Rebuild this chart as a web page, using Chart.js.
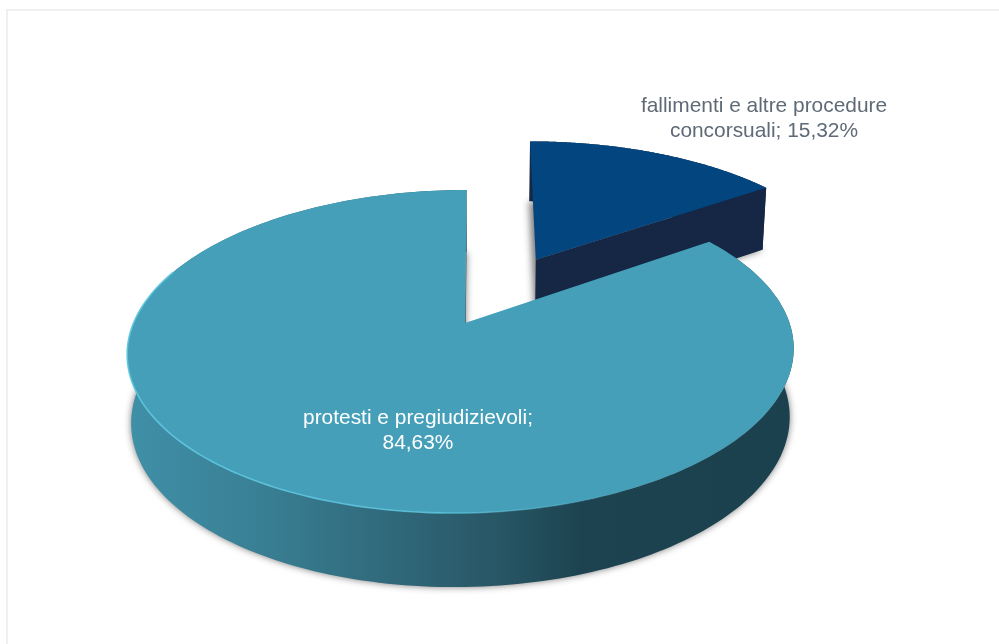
<!DOCTYPE html>
<html>
<head>
<meta charset="utf-8">
<title>Segnalazioni</title>
<script src="https://cdn.jsdelivr.net/npm/chart.js@4"></script>
<style>
html, body { margin: 0; background: #fff; overflow: hidden; }
#frame { position: absolute; left: 6px; top: 9px; right: 0; bottom: 0; border-left: 2px solid #efefef; border-top: 2px solid #efefef; }
#pie3d { position: absolute; left: 0; top: 0; }
</style>
</head>
<body>
<div id="frame"></div>
<canvas id="pie3d" width="999" height="644"></canvas>
<script>
// slices, starting from twelve o'clock going clockwise
var categories = ['fallimenti e altre procedure concorsuali', 'protesti e pregiudizievoli'];
var shares = [15.32, 84.63];
var labelLines = [
    ['fallimenti e altre procedure', 'concorsuali; 15,32%'],
    ['protesti e pregiudizievoli;', '84,63%']
];

var topColors = ['#03467f', '#459fb9'];
var labelColors = ['#5f6a76', '#ffffff'];
var labelSpots = [[764, 112], [418, 424]];
var explode = [0.49, 0];
var sideShift = [0.009, 0];
var radiusScale = [1.025, 1];
var apexNudge = [0, 0.0107];

// perspective camera for the tilted disc: x right, z towards the viewer, h down the wall
var cam = { xc: 461.5, yc: 323, r: 328, skew: -6, ry: 99.5, k: -0.1765, wall: 67.6, wallK: -0.087, pinch: 0.012 };

function project(x, z, h) {
    var w = 1 + cam.k * z;
    var px = cam.xc + (cam.r * x + cam.skew * z) / w;
    var py = (cam.yc + cam.ry * z) / w;
    if (h) {
        px += h * (cam.xc - px) * cam.pinch;
        py += h * cam.wall / (1 + cam.wallK * z);
    }
    return [px, py];
}

function tracePath(ctx, pts) {
    ctx.beginPath();
    pts.forEach(function (p, i) {
        if (i === 0) ctx.moveTo(p[0], p[1]);
        else ctx.lineTo(p[0], p[1]);
    });
    ctx.closePath();
}

// arc outline of one slice at wall height h
function arcPoints(el, i, h) {
    var a = el.startAngle + Math.PI / 2;
    var b = el.endAngle + Math.PI / 2;
    var mid = (a + b) / 2;
    var ox = explode[i] * Math.sin(mid) + sideShift[i];
    var oz = -explode[i] * Math.cos(mid);
    var pts = [];
    for (var s = 0; s <= 240; s++) {
        var t = a + (b - a) * s / 240;
        pts.push(project(ox + radiusScale[i] * Math.sin(t), oz - radiusScale[i] * Math.cos(t), h));
    }
    return pts;
}

function apexPoint(el, i, h) {
    var mid = (el.startAngle + el.endAngle) / 2 + Math.PI / 2;
    return project(explode[i] * Math.sin(mid) + sideShift[i] + apexNudge[i], -explode[i] * Math.cos(mid), h);
}

function wallFill(ctx, i) {
    if (i === 0) return '#152744';
    var g = ctx.createLinearGradient(127, 0, 794, 0);
    g.addColorStop(0, '#3f90a8');
    g.addColorStop(0.2, '#397f94');
    g.addColorStop(0.4, '#30687a');
    g.addColorStop(0.55, '#285766');
    g.addColorStop(0.68, '#1d4350');
    g.addColorStop(1, '#1c414e');
    return g;
}

var pie3d = {
    id: 'pie3d',
    beforeDatasetsDraw: function (chart) {
        var ctx = chart.ctx;
        chart.getDatasetMeta(0).data.forEach(function (el, i) {
            var top = arcPoints(el, i, 0);
            var low = arcPoints(el, i, 1);
            var apexTop = apexPoint(el, i, 0);
            var apexLow = apexPoint(el, i, 1);
            var fill = wallFill(ctx, i);

            // soft shadow of the underside: the shape sits off canvas, only its shadow lands here
            ctx.save();
            ctx.shadowColor = 'rgba(115,115,115,0.95)';
            ctx.shadowBlur = 7;
            ctx.shadowOffsetX = 2000;
            ctx.translate(-2000, 0);
            ctx.fillStyle = '#000';
            tracePath(ctx, [apexLow].concat(low));
            ctx.fill();
            ctx.restore();

            // walls
            ctx.fillStyle = fill;
            tracePath(ctx, top.concat(low.slice().reverse()));
            ctx.fill();
            tracePath(ctx, [apexTop, top[top.length - 1], low[low.length - 1], apexLow]);
            ctx.fill();

            // top face
            ctx.fillStyle = topColors[i];
            tracePath(ctx, [apexTop].concat(top));
            ctx.fill();

            // light rim on the front edge of the big slice
            if (i === 1) {
                var rim = ctx.createLinearGradient(127, 0, 640, 0);
                rim.addColorStop(0, 'rgba(95,200,225,0.9)');
                rim.addColorStop(0.6, 'rgba(95,200,225,0.8)');
                rim.addColorStop(1, 'rgba(95,200,225,0)');
                ctx.strokeStyle = rim;
                ctx.lineWidth = 1.6;
                ctx.beginPath();
                top.forEach(function (p, n) {
                    if (n < 30 || n > 185) return;
                    if (n === 30) ctx.moveTo(p[0], p[1]);
                    else ctx.lineTo(p[0], p[1]);
                });
                ctx.stroke();
            }
        });

        ctx.save();
        ctx.font = '20.9px "Liberation Sans", Arial, sans-serif';
        ctx.textAlign = 'center';
        ctx.textBaseline = 'alphabetic';
        labelLines.forEach(function (lines, i) {
            ctx.fillStyle = labelColors[i];
            lines.forEach(function (line, n) {
                ctx.fillText(line, labelSpots[i][0], labelSpots[i][1] + n * 25);
            });
        });
        ctx.restore();
        return false;
    }
};

var ctx = document.getElementById('pie3d').getContext('2d');
var myChart = new Chart(ctx, {
    type: 'pie',
    data: {
        labels: categories,
        datasets: [{
            data: shares,
            backgroundColor: topColors,
            borderWidth: 0
        }]
    },
    options: {
        responsive: false,
        animation: false,
        plugins: {
            legend: { display: false },
            tooltip: { enabled: false }
        }
    },
    plugins: [pie3d]
});
</script>
</body>
</html>
